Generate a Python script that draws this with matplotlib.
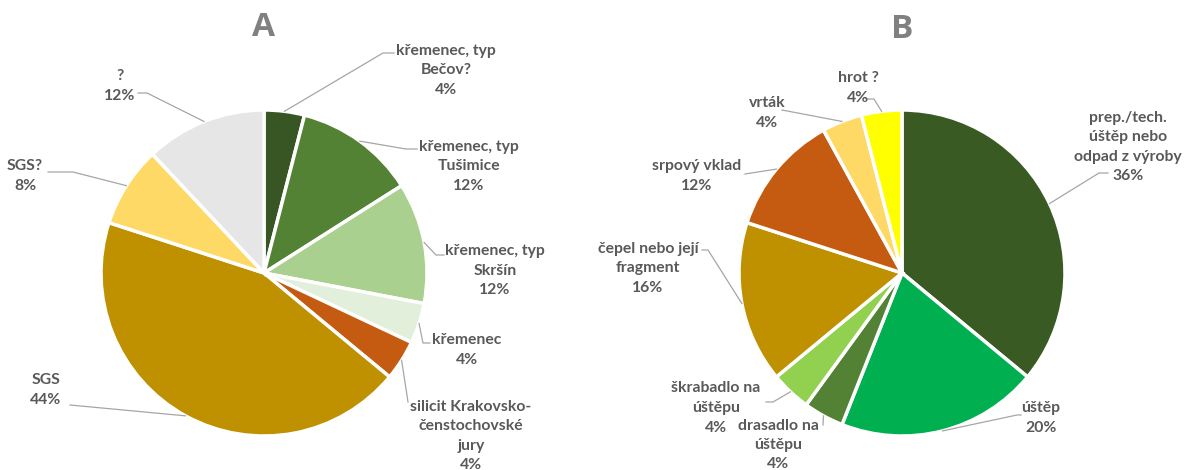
import matplotlib
matplotlib.use('Agg')
import matplotlib.pyplot as plt
import numpy as np

W, H = 1184, 470

# ---- data ----
a_labels = ["křemenec, typ\nBečov?", "křemenec, typ\nTušimice", "křemenec, typ\nSkršín",
            "křemenec", "silicit Krakovsko-\nčenstochovské\njury", "SGS", "SGS?", "?"]
a_values = [4, 12, 12, 4, 4, 44, 8, 12]
a_colors = ["#375623", "#548235", "#A9D08E", "#E2EFDA", "#C55A11", "#BF9000", "#FFD966", "#E6E6E6"]

b_labels = ["prep./tech.\núštěp nebo\nodpad z výroby", "úštěp", "drasadlo na\núštěpu",
            "škrabadlo na\núštěpu", "čepel nebo její\nfragment", "srpový vklad", "vrták", "hrot ?"]
b_values = [36, 20, 4, 4, 16, 12, 4, 4]
b_colors = ["#3A5A24", "#00B050", "#548235", "#92D050", "#BF9000", "#C55A11", "#FFD966", "#FFFF00"]

# ---- layout (pixel coords, y from top) ----
a_text = [(446, 70), (469, 166), (495, 271), (467, 350), (471, 436), (46, 390), (25, 176), (120, 86)]
a_lead = [[(383, 53), (394, 53)], [(406, 149), (417, 149)], [(436, 255), (444, 255)],
          [(423, 343), (430, 343)], [(408, 402)], [(70, 405)], [(73, 172), (48, 172)],
          [(147, 93), (138, 93)]]
b_text = [(1128, 147), (1041, 418), (778, 445), (716, 408), (648, 268), (697, 176), (767, 113), (858, 88)]
b_lead = [[(1099, 173), (1108, 173)], [(1017, 415), (1021, 415)], [(823, 425)],
          [(773, 402), (766, 402)], [(708, 250), (702, 250)], [(745, 174)],
          [(782, 110)], [(874, 99), (866, 99)]]

TXT = "#595959"
FONT = "Lato"

fig = plt.figure(figsize=(W / 100, H / 100), dpi=100)
ax = fig.add_axes([0, 0, 1, 1])


def draw(center, values, colors, labels, tpos, leads, title, tx):
    cx, cy = center
    R = 163
    wedges, _ = ax.pie(values, colors=colors, startangle=90, counterclock=False,
                       radius=R, center=(cx, H - cy), frame=True,
                       wedgeprops=dict(edgecolor="white", linewidth=2.5))
    for w, v, lab, (x, y), ld in zip(wedges, values, labels, tpos, leads):
        mid = np.deg2rad((w.theta1 + w.theta2) / 2)
        sx, sy = cx + R * np.cos(mid), (H - cy) + R * np.sin(mid)
        xs = [sx] + [p[0] for p in ld]
        ys = [sy] + [H - p[1] for p in ld]
        ax.plot(xs, ys, color="#A6A6A6", lw=0.9, zorder=1)
        ax.text(x, H - y, f"{lab}\n{v}%", ha="center", va="center", ma="center",
                color=TXT, fontsize=11.3, fontweight="bold", family=FONT,
                linespacing=1.5)
    ax.text(tx[0], H - tx[1], title, ha="center", va="center", color="#808080",
            fontsize=24, fontweight="bold", family="Open Sans")


draw((264, 273), a_values, a_colors, a_labels, a_text, a_lead, "A", (264, 28))
draw((902, 273), b_values, b_colors, b_labels, b_text, b_lead, "B", (902, 30))

ax.set_xlim(0, W)
ax.set_ylim(0, H)
ax.set_aspect("equal")
ax.axis("off")

fig.savefig("out.png", dpi=100, facecolor="white")
